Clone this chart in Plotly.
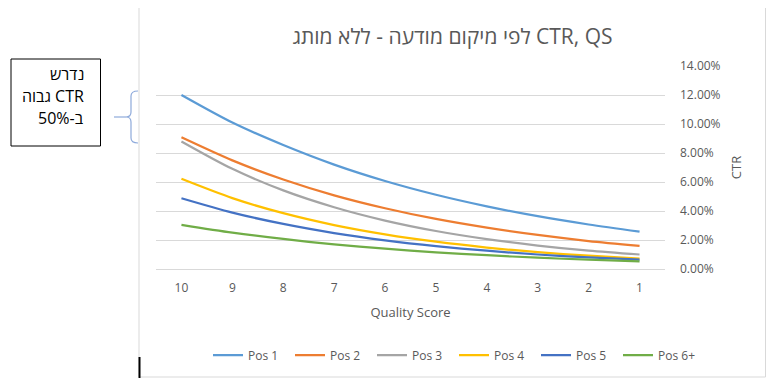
import plotly.graph_objects as go

# ---- data ----
quality_scores = ["10", "9", "8", "7", "6", "5", "4", "3", "2", "1"]
series_names = ["Pos 1", "Pos 2", "Pos 3", "Pos 4", "Pos 5", "Pos 6+"]
pos1 = [0.1200, 0.1010, 0.0855, 0.0720, 0.0607, 0.0512, 0.0432, 0.0364, 0.0307, 0.0258]
pos2 = [0.0908, 0.0749, 0.0617, 0.0508, 0.0419, 0.0345, 0.0285, 0.0235, 0.0193, 0.0160]
pos3 = [0.0880, 0.0691, 0.0542, 0.0426, 0.0334, 0.0262, 0.0206, 0.0162, 0.0127, 0.0100]
pos4 = [0.0622, 0.0489, 0.0385, 0.0303, 0.0239, 0.0188, 0.0148, 0.0116, 0.0092, 0.0072]
pos5 = [0.0488, 0.0389, 0.0311, 0.0248, 0.0198, 0.0158, 0.0126, 0.0100, 0.0080, 0.0064]
pos6 = [0.0305, 0.0251, 0.0207, 0.0170, 0.0140, 0.0115, 0.0095, 0.0078, 0.0064, 0.0053]
series_values = [pos1, pos2, pos3, pos4, pos5, pos6]
colors = ["#5B9BD5", "#ED7D31", "#A5A5A5", "#FFC000", "#4472C4", "#70AD47"]

RLE, PDF = "\u202b", "\u202c"
title_text = RLE + "CTR, QS לפי מיקום מודעה - ללא מותג" + PDF
note_lines = [RLE + "נדרש" + PDF, RLE + "CTR גבוה" + PDF, RLE + "ב-50%" + PDF]

# ---- geometry (screen pixels; page body adds an 8px offset) ----
OFF = 8
W, H = 774 - OFF, 387 - OFF
L, R, T, B = 156, 665, 66, 269   # plot area in screen pixels


def px(x):
    return (x - L) / (R - L)


def py(y):
    return (B - y) / (B - T)


FONT = "Open Sans, Noto Sans, DejaVu Sans, sans-serif"
GREY = "#595959"

fig = go.Figure()
for name, vals, col in zip(series_names, series_values, colors):
    fig.add_trace(go.Scatter(
        x=quality_scores, y=vals, name=name, mode="lines",
        line=dict(color=col, width=2.25, shape="spline", smoothing=0.8),
    ))

shapes = []
# chart frame
shapes.append(dict(type="rect", xref="paper", yref="paper",
                   x0=px(139), x1=px(765.5), y0=py(377), y1=py(6.5),
                   line=dict(color="#D9D9D9", width=1), layer="below"))
# black segment on the left frame
shapes.append(dict(type="line", xref="paper", yref="paper",
                   x0=px(139.5), x1=px(139.5), y0=py(357), y1=py(378),
                   line=dict(color="black", width=2)))
# note box
shapes.append(dict(type="rect", xref="paper", yref="paper",
                   x0=px(11), x1=px(100.5), y0=py(146), y1=py(59),
                   line=dict(color="black", width=1), fillcolor="white"))
# brace
pts = ("M {a},{b} Q {c},{b} {c},{d} L {c},{e} Q {c},{f} {g},{f} "
       "Q {c},{f} {c},{h} L {c},{i} Q {c},{j} {a},{j}")
br = pts.format(a=px(138), b=py(91), c=px(131), d=py(96), e=py(112),
                f=py(117), g=px(126), h=py(122), i=py(138), j=py(143))
shapes.append(dict(type="path", xref="paper", yref="paper", path=br,
                   line=dict(color="#8EAADB", width=1.2)))
shapes.append(dict(type="line", xref="paper", yref="paper",
                   x0=px(114), x1=px(126), y0=py(117), y1=py(117),
                   line=dict(color="#8EAADB", width=1.2)))

annotations = []
for i, t in enumerate(note_lines):
    annotations.append(dict(text=t, xref="paper", yref="paper",
                            x=px(86), y=py(74 + 22 * i), xanchor="right",
                            yanchor="middle", showarrow=False,
                            font=dict(family=FONT, size=16, color="black")))

fig.update_layout(
    width=W, height=H,
    margin=dict(l=L - OFF, r=W - (R - OFF), t=T - OFF, b=H - (B - OFF),
                pad=0, autoexpand=False),
    paper_bgcolor="white", plot_bgcolor="white",
    font=dict(family=FONT, size=12, color=GREY),
    title=dict(text=title_text, xref="container", yref="container",
               x=(452.5 - OFF) / W, y=1 - (37 - OFF) / H,
               xanchor="center", yanchor="middle",
               font=dict(family=FONT, size=21, color=GREY)),
    xaxis=dict(type="category", range=[-0.5, 9.5], showgrid=False, showline=True,
               linecolor="#D9D9D9", linewidth=1, ticks="", automargin=False,
               ticklabelstandoff=8,
               tickfont=dict(size=12, color=GREY),
               title=dict(text="Quality Score", standoff=12,
                          font=dict(size=13, color=GREY))),
    yaxis=dict(side="right", range=[0, 0.14], dtick=0.02, tickformat=".2%",
               showgrid=True, gridcolor="#D9D9D9", gridwidth=1,
               zeroline=False, showline=False, ticks="", automargin=False,
               ticklabelstandoff=14,
               tickfont=dict(size=12, color=GREY),
               title=dict(text="CTR", standoff=12,
                          font=dict(size=13, color=GREY))),
    legend=dict(orientation="h", x=px(454), y=py(355), xanchor="center",
                yanchor="middle", entrywidth=37, entrywidthmode="pixels",
                itemwidth=30, font=dict(size=12, color=GREY),
                bgcolor="rgba(0,0,0,0)"),
    shapes=shapes, annotations=annotations,
    showlegend=True,
)

fig.write_html("out.html")
